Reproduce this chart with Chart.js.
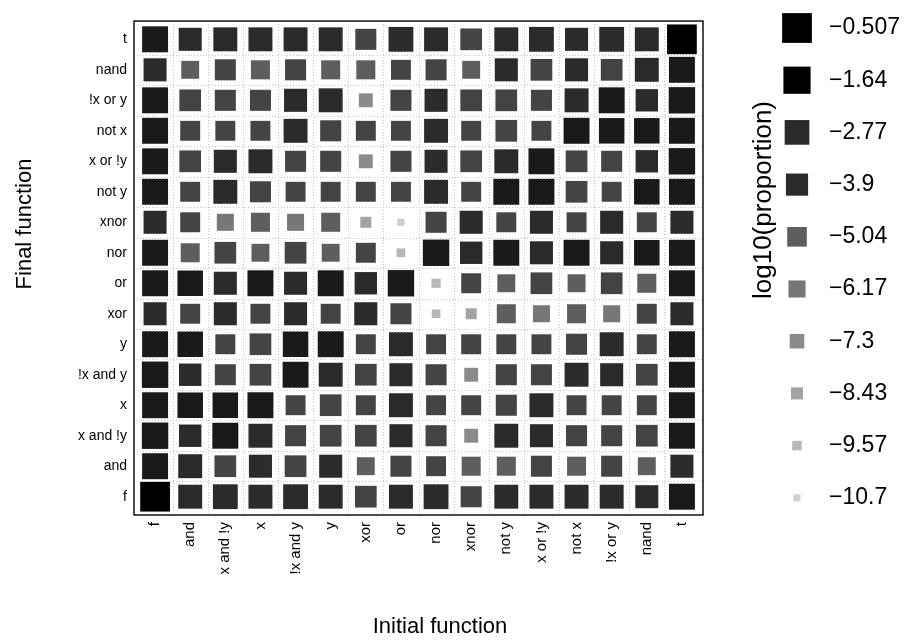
<!DOCTYPE html>
<html lang="en">
<head>
<meta charset="UTF-8">
<title>Initial vs final function</title>
<script src="https://cdn.jsdelivr.net/npm/chart.js"></script>
<style>
  body { margin: 0; background: #fff; }
  #wrap { width: 917px; height: 641px; }
</style>
</head>
<body>
<div id="wrap"><canvas id="chart" width="917" height="641"></canvas></div>
<script>
// boolean functions, same order on both axes (f at the origin)
const initialFns = ['f', 'and', 'x and !y', 'x', '!x and y', 'y', 'xor', 'or',
                    'nor', 'xnor', 'not y', 'x or !y', 'not x', '!x or y', 'nand', 't'];
const finalFns = initialFns.slice();

// log10(proportion), one row per final function (f first), columns follow initialFns
const logProp = [
  [-0.5, -3.1, -2.7, -3.1, -2.7, -3.1, -4.1, -3.1, -2.7, -4.4, -3.1, -3.1, -3.1, -3.1, -3.5, -2.2], // f
  [-2.2, -3.1, -4.1, -3.5, -4.1, -3.5, -5.8, -4.4, -4.9, -5.3, -5.3, -4.4, -5.3, -4.4, -5.8, -3.5], // and
  [-2.0, -3.8, -2.2, -3.1, -4.4, -4.1, -4.1, -3.5, -4.4, -7.6, -3.1, -3.5, -4.4, -4.4, -4.1, -2.2], // x and !y
  [-2.2, -2.4, -2.4, -2.2, -4.9, -4.1, -4.9, -3.1, -4.9, -4.9, -4.4, -3.1, -4.9, -4.9, -4.9, -2.2], // x
  [-2.0, -3.8, -4.4, -4.1, -2.2, -3.1, -4.1, -3.5, -4.4, -7.6, -4.4, -4.4, -3.1, -3.5, -4.1, -2.2], // !x and y
  [-2.2, -2.4, -4.9, -4.1, -2.4, -2.2, -4.9, -3.1, -4.9, -4.9, -4.9, -4.9, -4.4, -3.1, -4.9, -2.2], // y
  [-3.5, -4.9, -3.5, -4.9, -3.5, -4.9, -3.5, -4.4, -9.95, -8.9, -5.3, -6.2, -5.3, -6.2, -4.9, -3.5], // xor
  [-2.2, -2.4, -3.5, -2.2, -3.5, -2.2, -3.8, -2.0, -9.7, -4.9, -5.8, -4.1, -5.8, -4.1, -5.3, -2.2], // or
  [-2.2, -5.3, -4.1, -5.8, -4.1, -5.8, -4.9, -9.9, -2.0, -3.8, -2.2, -3.5, -2.2, -3.5, -2.4, -2.2], // nor
  [-3.5, -4.9, -6.2, -5.3, -6.2, -5.3, -8.9, -10.6, -4.4, -3.5, -4.9, -3.5, -4.9, -3.5, -4.9, -3.5], // xnor
  [-2.2, -4.9, -3.1, -4.4, -4.9, -4.9, -4.9, -4.9, -3.1, -4.9, -2.2, -2.2, -4.1, -4.9, -2.4, -2.2], // not y
  [-2.2, -4.1, -3.5, -3.1, -4.4, -4.4, -7.6, -4.4, -3.5, -4.1, -3.1, -2.2, -4.1, -4.4, -3.8, -2.0], // x or !y
  [-2.2, -4.9, -4.9, -4.9, -3.1, -4.4, -4.9, -4.9, -3.1, -4.9, -4.1, -4.9, -2.2, -2.4, -2.4, -2.2], // not x
  [-2.2, -4.1, -4.4, -4.4, -3.5, -3.1, -7.6, -4.4, -3.5, -4.1, -4.1, -4.4, -3.1, -2.2, -3.8, -2.0], // !x or y
  [-3.5, -5.8, -4.4, -5.3, -4.4, -5.3, -5.3, -4.9, -4.4, -5.8, -3.5, -4.1, -3.5, -4.1, -3.1, -2.2], // nand
  [-2.2, -3.5, -3.1, -3.1, -3.1, -3.1, -4.4, -2.7, -3.1, -4.1, -3.1, -2.7, -3.5, -2.7, -3.1, -0.5]  // t
];

// key entries
const keyValues = [-0.507, -1.64, -2.77, -3.9, -5.04, -6.17, -7.3, -8.43, -9.57, -10.7];
const keyLabels = ['\u22120.507', '\u22121.64', '\u22122.77', '\u22123.9', '\u22125.04',
                   '\u22126.17', '\u22127.3', '\u22128.43', '\u22129.57', '\u221210.7'];

const FONT = "'Liberation Sans', Arial, Helvetica, sans-serif";

// grey level steps and square size, both driven by the value
function colourFor(v) {
  if (v > -1.8) return '#000000';
  if (v > -2.5) return '#1a1a1a';
  if (v > -3.95) return '#2b2b2b';
  if (v > -5.0) return '#444444';
  if (v > -5.9) return '#5e5e5e';
  if (v > -6.5) return '#777777';
  if (v > -8.0) return '#8b8b8b';
  if (v > -9.0) return '#a3a3a3';
  if (v > -10.0) return '#b8b8b8';
  return '#cfcfcf';
}
function sideFor(v) {
  return 7 + (v + 10.7) * 2.23;
}

const points = [];
logProp.forEach((row, yi) => {
  row.forEach((v, xi) => points.push({ x: xi, y: yi, v: v }));
});

const framePlugin = {
  id: 'frame',
  afterDatasetsDraw(chart) {
    const { ctx, chartArea: a, scales: { x, y } } = chart;
    ctx.save();
    // dotted reference lines between cells
    ctx.strokeStyle = '#c4c4c4';
    ctx.lineWidth = 1;
    ctx.setLineDash([1, 2]);
    for (let i = 0; i < initialFns.length - 1; i++) {
      const px = Math.round(x.getPixelForValue(i + 0.5)) + 0.5;
      ctx.beginPath(); ctx.moveTo(px, a.top); ctx.lineTo(px, a.bottom); ctx.stroke();
    }
    for (let i = 0; i < finalFns.length - 1; i++) {
      const py = Math.round(y.getPixelForValue(i + 0.5)) + 0.5;
      ctx.beginPath(); ctx.moveTo(a.left, py); ctx.lineTo(a.right, py); ctx.stroke();
    }
    ctx.setLineDash([]);
    ctx.strokeStyle = '#000';
    ctx.lineWidth = 1.4;
    ctx.strokeRect(a.left, a.top, a.right - a.left, a.bottom - a.top);

    ctx.fillStyle = '#000';
    // axis titles
    ctx.textAlign = 'center';
    ctx.textBaseline = 'middle';
    ctx.font = '22px ' + FONT;
    ctx.fillText('Initial function', 440, 627);
    ctx.save();
    ctx.translate(25, 224);
    ctx.rotate(-Math.PI / 2);
    ctx.fillText('Final function', 0, 0);
    ctx.restore();

    // size/colour key on the right
    const keyX = 797, labelX = 829, top = 28, step = 52.2;
    keyValues.forEach((v, i) => {
      const s = sideFor(v);
      const cy = top + i * step;
      ctx.fillStyle = colourFor(v);
      ctx.fillRect(keyX - s / 2, cy - s / 2, s, s);
      ctx.fillStyle = '#000';
      ctx.font = '23px ' + FONT;
      ctx.textAlign = 'left';
      ctx.fillText(keyLabels[i], labelX, cy);
    });
    ctx.translate(764, 200);
    ctx.rotate(-Math.PI / 2);
    ctx.textAlign = 'center';
    ctx.font = '26px ' + FONT;
    ctx.fillText('log10(proportion)', 0, 0);
    ctx.restore();
  }
};

new Chart(document.getElementById('chart'), {
  type: 'scatter',
  data: {
    datasets: [{
      data: points,
      pointStyle: 'rect',
      borderWidth: 0,
      backgroundColor: c => colourFor(c.raw.v),
      pointRadius: c => sideFor(c.raw.v) / (2 * Math.SQRT1_2)
    }]
  },
  options: {
    responsive: false,
    animation: false,
    events: [],
    layout: { padding: { top: 8, right: 214, left: 0, bottom: 0 } },
    plugins: { legend: { display: false }, tooltip: { enabled: false } },
    scales: {
      x: {
        type: 'linear',
        min: -0.6,
        max: initialFns.length - 0.4,
        afterBuildTicks: s => { s.ticks = initialFns.map((_, i) => ({ value: i })); },
        afterFit: s => { s.height = 126; },
        grid: { display: false, drawTicks: false },
        border: { display: false },
        ticks: {
          autoSkip: false, minRotation: 90, maxRotation: 90, padding: 7,
          color: '#000', font: { family: FONT, size: 15 },
          callback: v => initialFns[v]
        }
      },
      y: {
        type: 'linear',
        min: -0.6,
        max: finalFns.length - 0.4,
        afterBuildTicks: s => { s.ticks = finalFns.map((_, i) => ({ value: i })); },
        afterFit: s => { s.width = 134; },
        grid: { display: false, drawTicks: false },
        border: { display: false },
        ticks: {
          autoSkip: false, padding: 7,
          color: '#000', font: { family: FONT, size: 14 },
          callback: v => finalFns[v]
        }
      }
    }
  },
  plugins: [framePlugin]
});
</script>
</body>
</html>
